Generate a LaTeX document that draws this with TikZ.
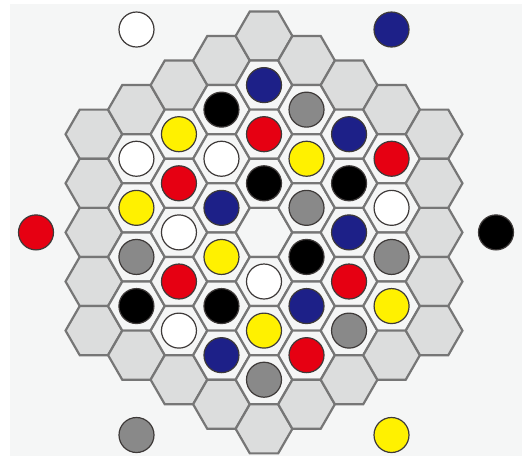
\documentclass[tikz,border=0pt]{standalone}
\begin{document}
\begin{tikzpicture}[x=1pt,y=-1pt]
\definecolor{bgc}{HTML}{F5F6F6}
\definecolor{hexouter}{HTML}{DCDDDD}
\definecolor{hexinner}{HTML}{F5F6F6}
\definecolor{hexstroke}{HTML}{767676}
\definecolor{pred}{HTML}{E60012}
\definecolor{pblue}{HTML}{1D2088}
\definecolor{pyellow}{HTML}{FFF100}
\definecolor{pgray}{HTML}{898989}
\definecolor{pblack}{HTML}{000000}
\definecolor{pwhite}{HTML}{FFFFFF}
\definecolor{pline}{HTML}{3E3A39}
\tikzset{
  hexline/.style={draw=hexstroke, line width=2.2pt, line join=miter},
  piece/.style={circle, draw=pline, line width=1.2pt, minimum size=35pt, inner sep=0pt}
}
\useasboundingbox (0,0) rectangle (522,456);
\fill[white] (0,0) rectangle (522,456);
\fill[bgc] (10,4) rectangle (522,456);
\def\s{28.35}
\foreach \q in {-4,...,4}{
  \foreach \r in {-4,...,4}{
    \pgfmathtruncatemacro\sss{-\q-\r}
    \pgfmathtruncatemacro\d{max(abs(\q),abs(\r),abs(\sss))}
    \ifnum\d<5
      \pgfmathsetmacro\cx{264+1.5*\s*\q}
      \pgfmathsetmacro\cy{232.4+sqrt(3)*\s*(\r+\q/2)}
      \ifnum\d=4 \def\fc{hexouter}\else\def\fc{hexinner}\fi
      \draw[hexline, fill=\fc] ({\cx+\s},\cy) -- ({\cx+\s/2},{\cy-0.8660254*\s}) -- ({\cx-\s/2},{\cy-0.8660254*\s}) -- ({\cx-\s},\cy) -- ({\cx-\s/2},{\cy+0.8660254*\s}) -- ({\cx+\s/2},{\cy+0.8660254*\s}) -- cycle;
    \fi
  }
}
\foreach \q/\m/\c [count=\i] in {
  -3/-3/pwhite, -3/-1/pyellow, -3/1/pgray, -3/3/pblack,
  -2/-4/pyellow, -2/-2/pred, -2/0/pwhite, -2/2/pred, -2/4/pwhite,
  -1/-5/pblack, -1/-3/pwhite, -1/-1/pblue, -1/1/pyellow, -1/3/pblack, -1/5/pblue,
  0/-6/pblue, 0/-4/pred, 0/-2/pblack, 0/2/pwhite, 0/4/pyellow, 0/6/pgray,
  1/-5/pgray, 1/-3/pyellow, 1/-1/pgray, 1/1/pblack, 1/3/pblue, 1/5/pred,
  2/-4/pblue, 2/-2/pblack, 2/0/pblue, 2/2/pred, 2/4/pgray,
  3/-3/pred, 3/-1/pwhite, 3/1/pgray, 3/3/pyellow}{
  \node[piece, fill=\c] (p\i) at ({264+1.5*28.35*\q},{232.4+49.104*\m/2}) {};
}
\node[piece, fill=pwhite] (ow) at (136.5,29.5) {};
\node[piece, fill=pblue] (ob) at (391.5,29.5) {};
\node[piece, fill=pred] (or) at (36,232.4) {};
\node[piece, fill=pblack] (ok) at (496,232.4) {};
\node[piece, fill=pgray] (og) at (136.5,435) {};
\node[piece, fill=pyellow] (oy) at (391.5,435) {};
\end{tikzpicture}
\end{document}
